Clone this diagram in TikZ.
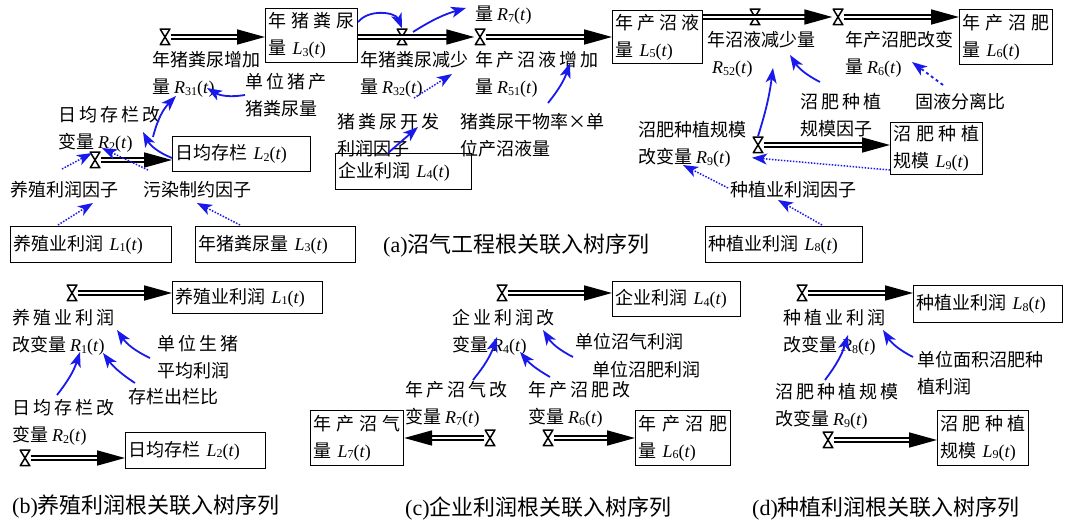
\documentclass[tikz,border=0pt]{standalone}
\usepackage{fontspec}
\setmainfont{Noto Sans CJK SC}
\newfontfamily\latin{Liberation Serif}
\usetikzlibrary{arrows.meta,positioning}
\definecolor{linkblue}{RGB}{25,25,235}
\newcommand{\gap}{\hspace{3pt}}
\newcommand{\sdv}[2]{{\latin\textit{#1}\raisebox{-1.5pt}{\fontsize{12}{12}\selectfont #2}(\textit{t})}}
\tikzset{
  levelbox/.style={draw,line width=1.2pt,anchor=north west,inner sep=3pt,align=left,
    font=\fontsize{18}{27}\selectfont},
  ratetext/.style={anchor=base west,inner sep=0pt,align=left,font=\fontsize{18}{27}\selectfont},
  ratetwo/.style={ratetext,yshift=-27pt},
  captiontext/.style={anchor=base west,inner sep=0pt,font=\fontsize{22}{26}\selectfont},
  valvenode/.style={inner sep=0pt,minimum width=11pt,minimum height=17pt,
    path picture={\draw[line width=1.5pt]
      ([shift={(0.75pt,-0.75pt)}]path picture bounding box.north west) --
      ([shift={(-0.75pt,-0.75pt)}]path picture bounding box.north east) --
      ([shift={(0.75pt,0.75pt)}]path picture bounding box.south west) --
      ([shift={(-0.75pt,0.75pt)}]path picture bounding box.south east) -- cycle;}},
  pipearrow/.style={double,double distance=2.4pt,line width=1.7pt,-{Triangle[length=28pt,width=15pt]}},
  linkarrow/.style={-{Stealth[length=15pt,width=11pt,inset=4pt]},draw=linkblue,line width=1.8pt},
  dottedlink/.style={linkarrow,line width=1.5pt,dash pattern=on 1.5pt off 1.5pt}
}

\begin{document}
\begin{tikzpicture}[x=1pt,y=-1pt]
  \useasboundingbox (0,0) rectangle (1072,521);
  % (a) levels
  \node[levelbox,text width=86pt,minimum height=54pt] (L3top) at (265,8) {年\hfill 猪\hfill 粪\hfill 尿\\量 \sdv{L}{3}};
  \node[levelbox,text width=84pt,minimum height=53pt] (L5) at (612,10) {年\hfill 产\hfill 沼\hfill 液\\量 \sdv{L}{5}};
  \node[levelbox,text width=87pt,minimum height=55pt] (L6) at (959,9) {年\hfill 产\hfill 沼\hfill 肥\\量 \sdv{L}{6}};
  \node[levelbox,text width=132pt,minimum height=35pt] (L2a) at (172,136) {日均存栏 \sdv{L}{2}};
  \node[levelbox,text width=130pt,minimum height=36pt] (L4a) at (335,153) {企业利润 \sdv{L}{4}};
  \node[levelbox,text width=155pt,minimum height=36pt] (L1a) at (10,226) {养殖业利润 \sdv{L}{1}};
  \node[levelbox,text width=154pt,minimum height=36pt] (L3b) at (195,226) {年猪粪尿量 \sdv{L}{3}};
  \node[levelbox,text width=86pt,minimum height=50pt] (L9a) at (890,122) {沼\hfill 肥\hfill 种\hfill 植\\规模 \sdv{L}{9}};
  \node[levelbox,text width=151pt,minimum height=36pt] (L8a) at (705,226) {种植业利润 \sdv{L}{8}};
  % (a) rates and auxiliaries
  \node[ratetwo] (r31) at (152,67) {年猪粪尿增加\\量 \sdv{R}{31}};
  \node[ratetwo] (u3) at (245,89) {单\gap 位\gap 猪\gap 产\\猪粪尿量};
  \node[ratetwo] (r2a) at (58,122) {日\gap 均\gap 存\gap 栏\gap 改\\变量 \sdv{R}{2}};
  \node[ratetwo] (r32) at (360,67) {年猪粪尿减少\\量 \sdv{R}{32}};
  \node[ratetwo] (r51) at (475,67) {年\gap 产\gap 沼\gap 液\gap 增\gap 加\\量 \sdv{R}{51}};
  \node[ratetext] (r7a) at (475,21) {量 \sdv{R}{7}};
  \node[ratetwo] (fk) at (337,129) {猪\gap 粪\gap 尿\gap 开\gap 发\\利润因子};
  \node[ratetwo] (gw) at (460,129) {猪粪尿干物率×单\\位产沼液量};
  \node[ratetwo] (r52) at (707,47) {年沼液减少量\\\hspace{5pt}\sdv{R}{52}};
  \node[ratetwo] (r6a) at (845,47) {年产沼肥改变\\量 \sdv{R}{6}};
  \node[ratetwo] (gz) at (800,109) {沼\gap 肥\gap 种\gap 植\\规模因子};
  \node[ratetext] (gy) at (915,109) {固液分离比};
  \node[ratetwo] (r9a) at (638,137) {沼肥种植规模\\改变量 \sdv{R}{9}};
  \node[ratetext] (zp) at (730,197) {种植业利润因子};
  \node[ratetext] (yp) at (10,197) {养殖利润因子};
  \node[ratetext] (wr) at (143,197) {污染制约因子};
  \node[captiontext] (capa) at (383,253) {{\latin (a)}沼气工程根关联入树序列};
  % (a) valves
  \node[valvenode] (v31) at (165,37) {};
  \node[valvenode] (v32) at (402,37) {};
  \node[valvenode] (v51) at (480,37) {};
  \node[valvenode] (v52) at (755,17) {};
  \node[valvenode] (v6) at (838,17) {};
  \node[valvenode] (v2) at (95,160) {};
  \node[valvenode] (v9) at (758,145) {};
  % (a) flows
  \draw[pipearrow] (v31.east) -- (v31 -| L3top.west);
  \draw[pipearrow] (L3top.east |- v51) -- (v51.west);
  \draw[pipearrow] (v51.east) -- (v51 -| L5.west);
  \draw[pipearrow] (L5.east |- v52) -- (v6.west);
  \draw[pipearrow] (v6.east) -- (v6 -| L6.west);
  \draw[pipearrow] (v2.east) -- (v2 -| L2a.west);
  \draw[pipearrow] (v9.east) -- (v9 -| L9a.west);
  % (a) links
  \draw[linkarrow] ([shift={(0,-21)}]u3.base west) to[bend left=20] ([shift={(55,-6)}]r31.base west);
  \draw[linkarrow] ([shift={(0,22)}]L2a.north west) to[bend left=20] ([shift={(85,-17)}]r2a.base west);
  \draw[linkarrow] ([shift={(95,-12)}]r2a.base west) to[bend left=15] ([shift={(24,2)}]r31.base west);
  \draw[dottedlink] ([shift={(52,-28)}]yp.base west) -- ([shift={(34,4)}]r2a.base west);
  \draw[dottedlink] ([shift={(5,-27)}]wr.base west) -- ([shift={(44,-1)}]r2a.base west);
  \draw[dottedlink] ([shift={(48,-1)}]L1a.north west) -- ([shift={(83,6)}]yp.base west);
  \draw[dottedlink] ([shift={(45,-1)}]L3b.north west) -- ([shift={(54,6)}]wr.base west);
  \draw[linkarrow] ([shift={(0,14)}]L3top.north east) to[bend left=60] (v32.north);
  \draw[linkarrow] ([shift={(11,-5)}]v32.center) to[bend left=8] ([shift={(-9,-13)}]r7a.base west);
  \draw[dottedlink] ([shift={(77,-58)}]fk.base west) -- ([shift={(92,-20)}]r32.base west);
  \draw[linkarrow] ([shift={(53,0)}]L4a.north west) -- ([shift={(81,-29)}]fk.base west);
  \draw[linkarrow] ([shift={(88,-53)}]gw.base west) to[bend right=10] ([shift={(95,-31)}]r51.base west);
  \draw[linkarrow] ([shift={(20,-54)}]gz.base west) to[bend left=15] ([shift={(83,-19)}]r52.base west);
  \draw[linkarrow,dashed] ([shift={(28,-24)}]gy.base west) -- ([shift={(67,-12)}]r6a.base west);
  \draw[linkarrow] (v9.north) to[bend right=5] ([shift={(66,-6)}]r52.base west);
  \draw[dottedlink] ([shift={(0,48)}]L9a.north west) -- ([shift={(-6,4)}]v9.south);
  \draw[dottedlink] ([shift={(-2,-9)}]zp.base west) -- ([shift={(45,1)}]r9a.base west);
  \draw[dottedlink] ([shift={(117,-1)}]L8a.north west) -- ([shift={(48,3)}]zp.base west);

  % (b)
  \node[levelbox,text width=144pt,minimum height=32pt] (L1b) at (172,281) {养殖业利润 \sdv{L}{1}};
  \node[levelbox,text width=134pt,minimum height=36pt] (L2b) at (125,432) {日均存栏 \sdv{L}{2}};
  \node[ratetwo] (r1b) at (12,325) {养\gap 殖\gap 业\gap 利\gap 润\\改变量 \sdv{R}{1}};
  \node[ratetwo] (ub) at (157,351) {单\gap 位\gap 生\gap 猪\\平均利润};
  \node[ratetext] (cb) at (128,404) {存栏出栏比};
  \node[ratetwo] (r2b) at (12,415) {日\gap 均\gap 存\gap 栏\gap 改\\变量 \sdv{R}{2}};
  \node[captiontext] (capb) at (12,513) {{\latin (b)}养殖利润根关联入树序列};
  \node[valvenode] (v1b) at (72,293) {};
  \node[valvenode] (v2b) at (25,458) {};
  \draw[pipearrow] (v1b.east) -- (v1b -| L1b.west);
  \draw[pipearrow] (v2b.east) -- (v2b -| L2b.west);
  \draw[linkarrow] ([shift={(-7,-20)}]ub.base west) to[bend left=15] ([shift={(105,-22)}]r1b.base west);
  \draw[linkarrow] ([shift={(7,-21)}]cb.base west) to[bend left=10] ([shift={(91,1)}]r1b.base west);
  \draw[linkarrow] ([shift={(45,-47)}]r2b.base west) to[bend right=10] ([shift={(68,0)}]r1b.base west);

  % (c)
  \node[levelbox,text width=122pt,minimum height=35pt] (L4c) at (612,281) {企业利润 \sdv{L}{4}};
  \node[levelbox,text width=87pt,minimum height=55pt] (L7c) at (310,410) {年\hfill 产\hfill 沼\hfill 气\\量 \sdv{L}{7}};
  \node[levelbox,text width=89pt,minimum height=55pt] (L6c) at (635,410) {年\hfill 产\hfill 沼\hfill 肥\\量 \sdv{L}{6}};
  \node[ratetwo] (r4c) at (452,325) {企\gap 业\gap 利\gap 润\gap 改\\变量 \sdv{R}{4}};
  \node[ratetext] (uq) at (575,349) {单位沼气利润};
  \node[ratetext] (uf) at (592,377) {单位沼肥利润};
  \node[ratetwo] (r7c) at (405,397) {年\gap 产\gap 沼\gap 气\gap 改\\变量 \sdv{R}{7}};
  \node[ratetwo] (r6c) at (528,397) {年\gap 产\gap 沼\gap 肥\gap 改\\变量 \sdv{R}{6}};
  \node[captiontext] (capc) at (405,515) {{\latin (c)}企业利润根关联入树序列};
  \node[valvenode] (v4c) at (502,293) {};
  \node[valvenode] (v7c) at (490,438) {};
  \node[valvenode] (v6c) at (548,438) {};
  \draw[pipearrow] (v4c.east) -- (v4c -| L4c.west);
  \draw[pipearrow] (v7c.west) -- (v7c -| L7c.east);
  \draw[pipearrow] (v6c.east) -- (v6c -| L6c.west);
  \draw[linkarrow] ([shift={(-2,8)}]uq.base west) to[bend left=15] ([shift={(91,-22)}]r4c.base west);
  \draw[linkarrow] ([shift={(22,-47)}]r6c.base west) to[bend left=10] ([shift={(68,0)}]r4c.base west);
  \draw[linkarrow] ([shift={(68,-44)}]r7c.base west) to[bend right=10] ([shift={(45,-15)}]r4c.base west);

  % (d)
  \node[levelbox,text width=143pt,minimum height=37pt] (L8d) at (913,285) {种植业利润 \sdv{L}{8}};
  \node[levelbox,text width=85pt,minimum height=55pt] (L9d) at (937,410) {沼\hfill 肥\hfill 种\hfill 植\\规模 \sdv{L}{9}};
  \node[ratetwo] (r8d) at (783,325) {种\gap 植\gap 业\gap 利\gap 润\\改变量 \sdv{R}{8}};
  \node[ratetwo] (ud) at (917,367) {单位面积沼肥种\\植利润};
  \node[ratetwo] (r9d) at (775,399) {沼\gap 肥\gap 种\gap 植\gap 规\gap 模\\改变量 \sdv{R}{9}};
  \node[captiontext] (capd) at (752,515) {{\latin (d)}种植利润根关联入树序列};
  \node[valvenode] (v8d) at (802,293) {};
  \node[valvenode] (v9d) at (828,440) {};
  \draw[pipearrow] (v8d.east) -- (v8d -| L8d.west);
  \draw[pipearrow] (v9d.east) -- (v9d -| L9d.west);
  \draw[linkarrow] ([shift={(-4,-37)}]ud.base west) to[bend left=15] ([shift={(100,-22)}]r8d.base west);
  \draw[linkarrow] ([shift={(50,-46)}]r9d.base west) to[bend right=10] ([shift={(65,-17)}]r8d.base west);
\end{tikzpicture}
\end{document}
